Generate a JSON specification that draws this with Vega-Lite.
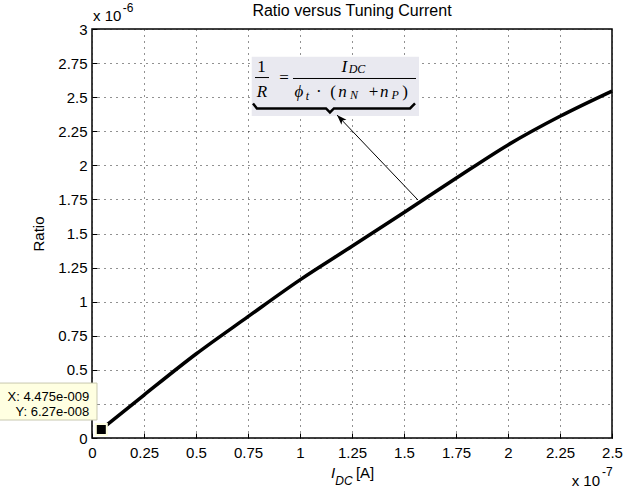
{
  "$schema": "https://vega.github.io/schema/vega-lite/v6.json",
  "width": 520,
  "height": 409,
  "autosize": {"type": "none"},
  "padding": {"left": 92, "top": 29, "right": 12, "bottom": 54},
  "background": "white",
  "config": {
    "view": {"stroke": "black", "strokeWidth": 1.5},
    "font": "Liberation Sans",
    "text": {"color": "black"},
    "axis": {
      "zindex": 0,
      "labelOverlap": false, "labelFlush": false,
      "grid": true, "gridColor": "#222", "gridDash": [1, 5], "gridWidth": 1,
      "domain": false,
      "ticks": true, "tickSize": -5, "tickColor": "black",
      "labelPadding": 10,
      "labelFont": "Liberation Sans", "labelFontSize": 15, "labelColor": "black",
      "titleFont": "Liberation Sans", "titleFontSize": 15, "titleFontWeight": "normal", "titleColor": "black"
    },
    "axisX": {"labelPadding": 12}
  },
  "datasets": {
    "curve": [
      {"idc": 0.04475, "ratio": 0.0627},
      {"idc": 0.25, "ratio": 0.315},
      {"idc": 0.5, "ratio": 0.616},
      {"idc": 0.75, "ratio": 0.89},
      {"idc": 1.0, "ratio": 1.16},
      {"idc": 1.25, "ratio": 1.406},
      {"idc": 1.5, "ratio": 1.654},
      {"idc": 1.75, "ratio": 1.905},
      {"idc": 2.0, "ratio": 2.15},
      {"idc": 2.25, "ratio": 2.36},
      {"idc": 2.5, "ratio": 2.545}
    ],
    "tip": [{"idc": 0.04475, "ratio": 0.0627}],
    "tipbox": [{"x": -0.45, "x2": 0.024, "y": 0.403, "y2": 0.132}],
    "tiptext": [
      {"x": -0.013, "y": 0.2985, "t": "X: 4.475e-009"},
      {"x": -0.013, "y": 0.193, "t": "Y: 6.27e-008"}
    ],
    "notebox": [{"x": 0.768, "x2": 1.572, "y": 2.797, "y2": 2.362}],
    "arrow": [{"x": 1.567, "y": 1.746, "x2": 1.178, "y2": 2.369}],
    "arrowhead": [{"x": 1.178, "y": 2.369}],
    "bars": [
      {"x": 0.7837, "x2": 0.851, "y": 2.644},
      {"x": 0.9663, "x2": 1.5577, "y": 2.637}
    ],
    "brace": [
      {"x": 0.774, "y": 2.454},
      {"x": 0.793, "y": 2.417},
      {"x": 1.125, "y": 2.417},
      {"x": 1.144, "y": 2.388},
      {"x": 1.163, "y": 2.417},
      {"x": 1.529, "y": 2.417},
      {"x": 1.553, "y": 2.454}
    ],
    "f_up_mid": [
      {"x": 0.923, "y": 2.644, "t": "="}
    ],
    "f_up": [
      {"x": 0.8149, "y": 2.682, "t": "1"},
      {"x": 1.091, "y": 2.501, "t": "·"},
      {"x": 1.159, "y": 2.501, "t": "("},
      {"x": 1.353, "y": 2.501, "t": "+"},
      {"x": 1.505, "y": 2.501, "t": ")"}
    ],
    "f_it": [
      {"x": 0.8173, "y": 2.499, "t": "R"},
      {"x": 1.213, "y": 2.682, "t": "I"},
      {"x": 0.995, "y": 2.501, "t": "ϕ"},
      {"x": 1.204, "y": 2.501, "t": "n"},
      {"x": 1.405, "y": 2.501, "t": "n"}
    ],
    "f_sub": [
      {"x": 1.274, "y": 2.674, "t": "DC"},
      {"x": 1.036, "y": 2.479, "t": "t"},
      {"x": 1.26, "y": 2.489, "t": "N"},
      {"x": 1.457, "y": 2.489, "t": "P"}
    ],
    "title": [{"x": 1.25, "y": 3.132, "t": "Ratio versus Tuning Current"}],
    "expo": [
      {"x": 0.0048, "y": 3.095, "t": "x 10"},
      {"x": 2.306, "y": -0.315, "t": "x 10"},
      {"x": 1.269, "y": -0.26, "t": "[A]"}
    ],
    "expo_sup": [
      {"x": 0.1474, "y": 3.152, "t": "-6"},
      {"x": 2.452, "y": -0.249, "t": "-7"}
    ],
    "xt_i": [{"x": 1.159, "y": -0.257, "t": "I"}],
    "xt_sub": [{"x": 1.211, "y": -0.315, "t": "DC"}]
  },
  "layer": [
    {
      "data": {"name": "curve"},
      "mark": {"type": "line", "color": "black", "strokeWidth": 3.5, "interpolate": "monotone"},
      "encoding": {
        "x": {
          "field": "idc", "type": "quantitative", "title": null,
          "scale": {"domain": [0, 2.5], "nice": false, "zero": false},
          "axis": {
            "title": null,
            "tickCount": 20,
            "values": [0, 0.25, 0.5, 0.75, 1, 1.25, 1.5, 1.75, 2, 2.25, 2.5],
            "labelExpr": "format(datum.value, '.2~f')"
          }
        },
        "y": {
          "field": "ratio", "type": "quantitative", "title": "Ratio",
          "scale": {"domain": [0, 3], "nice": false, "zero": false},
          "axis": {
            "title": "Ratio",
            "titlePadding": 11,
            "tickCount": 20,
            "values": [0, 0.25, 0.5, 0.75, 1, 1.25, 1.5, 1.75, 2, 2.25, 2.5, 2.75, 3],
            "labelExpr": "format(datum.value, '.2~f')"
          }
        }
      }
    },
    {
      "data": {"name": "tipbox"},
      "mark": {"type": "rect", "fill": "#FFFFE1", "stroke": "#C8C8B0", "strokeWidth": 1},
      "encoding": {
        "x": {"field": "x", "type": "quantitative"},
        "x2": {"field": "x2"},
        "y": {"field": "y", "type": "quantitative"},
        "y2": {"field": "y2"}
      }
    },
    {
      "data": {"name": "tiptext"},
      "mark": {"type": "text", "font": "Liberation Sans", "fontSize": 13, "align": "right", "baseline": "middle", "color": "black"},
      "encoding": {
        "x": {"field": "x", "type": "quantitative"},
        "y": {"field": "y", "type": "quantitative"},
        "text": {"field": "t"}
      }
    },
    {
      "data": {"name": "tip"},
      "mark": {"type": "point", "shape": "square", "filled": true, "size": 121, "fill": "black", "stroke": "#FFFFE1", "strokeWidth": 2, "opacity": 1},
      "encoding": {
        "x": {"field": "idc", "type": "quantitative"},
        "y": {"field": "ratio", "type": "quantitative"}
      }
    },
    {
      "data": {"name": "notebox"},
      "mark": {"type": "rect", "fill": "#E9E9F0"},
      "encoding": {
        "x": {"field": "x", "type": "quantitative"},
        "x2": {"field": "x2"},
        "y": {"field": "y", "type": "quantitative"},
        "y2": {"field": "y2"}
      }
    },
    {
      "data": {"name": "arrow"},
      "mark": {"type": "rule", "color": "black", "strokeWidth": 1},
      "encoding": {
        "x": {"field": "x", "type": "quantitative"},
        "y": {"field": "y", "type": "quantitative"},
        "x2": {"field": "x2"},
        "y2": {"field": "y2"}
      }
    },
    {
      "data": {"name": "arrowhead"},
      "mark": {"type": "point", "shape": "M0,0 L0.7,2 L0,1.5 L-0.7,2 Z", "filled": true, "fill": "black", "size": 100, "angle": 316, "opacity": 1, "strokeWidth": 0},
      "encoding": {
        "x": {"field": "x", "type": "quantitative"},
        "y": {"field": "y", "type": "quantitative"}
      }
    },
    {
      "data": {"name": "bars"},
      "mark": {"type": "rule", "color": "black", "strokeWidth": 1},
      "encoding": {
        "x": {"field": "x", "type": "quantitative"},
        "x2": {"field": "x2"},
        "y": {"field": "y", "type": "quantitative"}
      }
    },
    {
      "data": {"name": "brace"},
      "mark": {"type": "line", "color": "black", "strokeWidth": 2.5},
      "encoding": {
        "x": {"field": "x", "type": "quantitative"},
        "y": {"field": "y", "type": "quantitative"}
      }
    },
    {
      "data": {"name": "f_up_mid"},
      "mark": {"type": "text", "font": "Liberation Serif", "fontSize": 17, "align": "center", "baseline": "middle", "color": "black"},
      "encoding": {
        "x": {"field": "x", "type": "quantitative"},
        "y": {"field": "y", "type": "quantitative"},
        "text": {"field": "t"}
      }
    },
    {
      "data": {"name": "f_up"},
      "mark": {"type": "text", "font": "Liberation Serif", "fontSize": 17, "align": "center", "baseline": "alphabetic", "color": "black"},
      "encoding": {
        "x": {"field": "x", "type": "quantitative"},
        "y": {"field": "y", "type": "quantitative"},
        "text": {"field": "t"}
      }
    },
    {
      "data": {"name": "f_it"},
      "mark": {"type": "text", "font": "Liberation Serif", "fontSize": 17, "fontStyle": "italic", "align": "center", "baseline": "alphabetic", "color": "black"},
      "encoding": {
        "x": {"field": "x", "type": "quantitative"},
        "y": {"field": "y", "type": "quantitative"},
        "text": {"field": "t"}
      }
    },
    {
      "data": {"name": "f_sub"},
      "mark": {"type": "text", "font": "Liberation Serif", "fontSize": 12, "fontStyle": "italic", "align": "center", "baseline": "alphabetic", "color": "black"},
      "encoding": {
        "x": {"field": "x", "type": "quantitative"},
        "y": {"field": "y", "type": "quantitative"},
        "text": {"field": "t"}
      }
    },
    {
      "data": {"name": "title"},
      "mark": {"type": "text", "font": "Liberation Sans", "fontSize": 16, "align": "center", "baseline": "middle", "color": "black"},
      "encoding": {
        "x": {"field": "x", "type": "quantitative"},
        "y": {"field": "y", "type": "quantitative"},
        "text": {"field": "t"}
      }
    },
    {
      "data": {"name": "expo"},
      "mark": {"type": "text", "font": "Liberation Sans", "fontSize": 15, "align": "left", "baseline": "middle", "color": "black"},
      "encoding": {
        "x": {"field": "x", "type": "quantitative"},
        "y": {"field": "y", "type": "quantitative"},
        "text": {"field": "t"}
      }
    },
    {
      "data": {"name": "expo_sup"},
      "mark": {"type": "text", "font": "Liberation Sans", "fontSize": 12, "align": "left", "baseline": "middle", "color": "black"},
      "encoding": {
        "x": {"field": "x", "type": "quantitative"},
        "y": {"field": "y", "type": "quantitative"},
        "text": {"field": "t"}
      }
    },
    {
      "data": {"name": "xt_i"},
      "mark": {"type": "text", "font": "Liberation Sans", "fontSize": 15, "fontStyle": "italic", "align": "center", "baseline": "middle", "color": "black"},
      "encoding": {
        "x": {"field": "x", "type": "quantitative"},
        "y": {"field": "y", "type": "quantitative"},
        "text": {"field": "t"}
      }
    },
    {
      "data": {"name": "xt_sub"},
      "mark": {"type": "text", "font": "Liberation Sans", "fontSize": 12, "fontStyle": "italic", "align": "center", "baseline": "middle", "color": "black"},
      "encoding": {
        "x": {"field": "x", "type": "quantitative"},
        "y": {"field": "y", "type": "quantitative"},
        "text": {"field": "t"}
      }
    }
  ]
}
